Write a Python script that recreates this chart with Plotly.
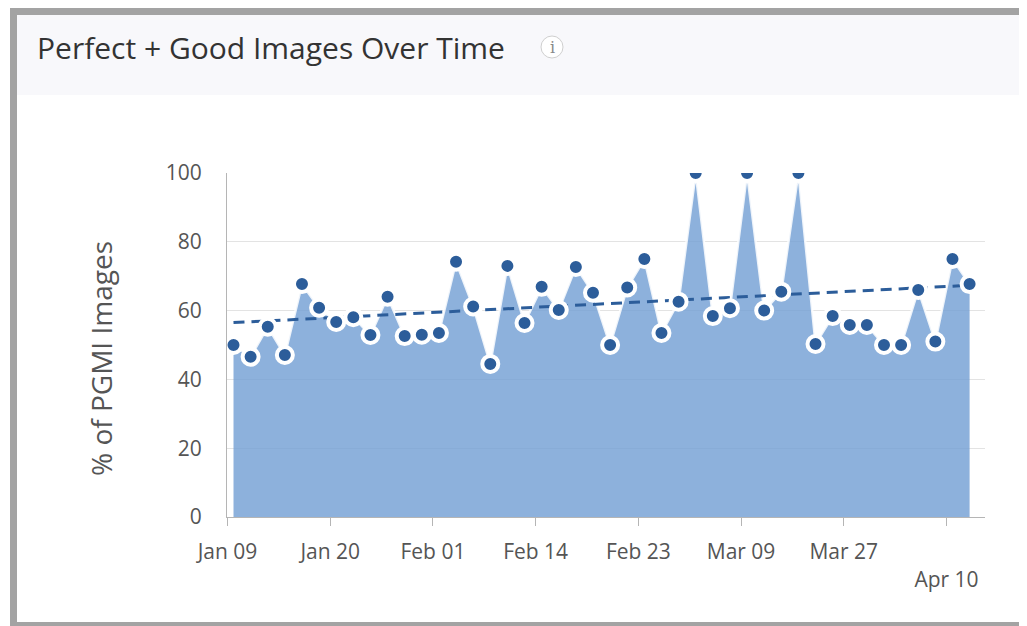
import numpy as np
import plotly.graph_objects as go

# % of PGMI images per reporting period
pgmi_pct = [50, 46.6, 55.3, 47.1, 67.7, 60.8, 56.7, 58.1, 52.9, 64,
            52.6, 53, 53.5, 74.2, 61.2, 44.5, 73, 56.4, 66.9, 60.2,
            72.7, 65.2, 50, 66.7, 75, 53.5, 62.6, 100, 58.4, 60.7,
            100, 60, 65.5, 100, 50.3, 58.4, 55.8, 55.8, 50, 50,
            66, 51, 75, 67.7]
tick_idx = [0, 6, 12, 18, 24, 30, 36, 42]
tick_labels = ["Jan 09", "Jan 20", "Feb 01", "Feb 14", "Feb 23", "Mar 09", "Mar 27", "<br>Apr 10"]

x = list(range(len(pgmi_pct)))
slope, intercept = np.polyfit(x, pgmi_pct, 1)
trend_x = [x[0], x[-1]]
trend_y = [intercept + slope * v for v in trend_x]

# page body has an 8px margin, so work in screenshot pixels and shift
OFF = 8
W, H = 1027 - OFF, 626 - OFF
L, R, T, B = 227, 985, 173, 517


def px(p):
    return (p - L) / (R - L)


def py(p):
    return (B - p) / (B - T)


dark = "#2c5d9a"
fig = go.Figure()
fig.add_trace(go.Scatter(x=x, y=pgmi_pct, mode="lines", fill="tozeroy",
                         fillcolor="rgba(112,157,211,0.8)",
                         line={"color": "rgba(255,255,255,0.85)", "width": 2.5},
                         hoverinfo="skip", showlegend=False))
fig.add_trace(go.Scatter(x=trend_x, y=trend_y, mode="lines",
                         line={"color": dark, "width": 3, "dash": "11px,7px"},
                         showlegend=False))
fig.add_trace(go.Scatter(x=x, y=pgmi_pct, mode="markers",
                         marker={"color": dark, "size": 16, "line": {"color": "white", "width": 4}},
                         showlegend=False))

grey = "#a3a3a3"
shapes = [
    dict(type="rect", xref="paper", yref="paper", x0=px(17), x1=px(1027), y0=py(15), y1=py(95),
         fillcolor="#f8f8fb", line={"width": 0}, layer="below"),
    dict(type="rect", xref="paper", yref="paper", x0=px(10), x1=px(17), y0=py(8), y1=py(626),
         fillcolor=grey, line={"width": 0}),
    dict(type="rect", xref="paper", yref="paper", x0=px(10), x1=px(1027), y0=py(8), y1=py(15),
         fillcolor=grey, line={"width": 0}),
    dict(type="rect", xref="paper", yref="paper", x0=px(10), x1=px(1027), y0=py(622), y1=py(626),
         fillcolor=grey, line={"width": 0}),
    dict(type="circle", xref="paper", yref="paper", x0=px(541), x1=px(563), y0=py(36), y1=py(58),
         fillcolor="white", line={"color": "#cfcfcf", "width": 1}),
]

fig.update_layout(
    width=W, height=H,
    margin={"l": L - OFF, "r": 1027 - R, "t": T - OFF, "b": 626 - B},
    paper_bgcolor="white", plot_bgcolor="white",
    font={"family": "Open Sans, Noto Sans, sans-serif", "color": "#555555"},
    shapes=shapes,
    annotations=[
        dict(text="Perfect + Good Images Over Time", xref="paper", yref="paper",
             x=px(35), y=py(47), xanchor="left", yanchor="middle", showarrow=False,
             font={"size": 30, "color": "#333333"}),
        dict(text="i", xref="paper", yref="paper", x=px(552), y=py(47), xanchor="center", yanchor="middle",
             showarrow=False, font={"size": 16, "color": "#888888", "family": "DejaVu Serif, serif"}),
        dict(text="% of PGMI Images", xref="paper", yref="paper", x=px(101), y=py(358),
             xanchor="center", yanchor="middle", textangle=-90, showarrow=False,
             font={"size": 28, "color": "#555555"}),
    ],
    xaxis={"range": [-0.38, 43.9], "tickvals": [i - 0.35 for i in tick_idx], "ticktext": tick_labels,
           "showgrid": False, "zeroline": False, "showline": True, "linecolor": "#b5b5b5",
           "ticks": "outside", "ticklen": 8, "tickcolor": "#b5b5b5", "ticklabelstandoff": 8,
           "tickfont": {"size": 21, "color": "#555555"}},
    yaxis={"range": [0, 100], "tickvals": [0, 20, 40, 60, 80, 100],
           "showgrid": True, "gridcolor": "#e3e3e3", "zeroline": False,
           "showline": True, "linecolor": "#b5b5b5", "ticks": "", "ticklabelstandoff": 20,
           "tickfont": {"size": 21, "color": "#555555"}},
)

fig.write_html("out.html")
